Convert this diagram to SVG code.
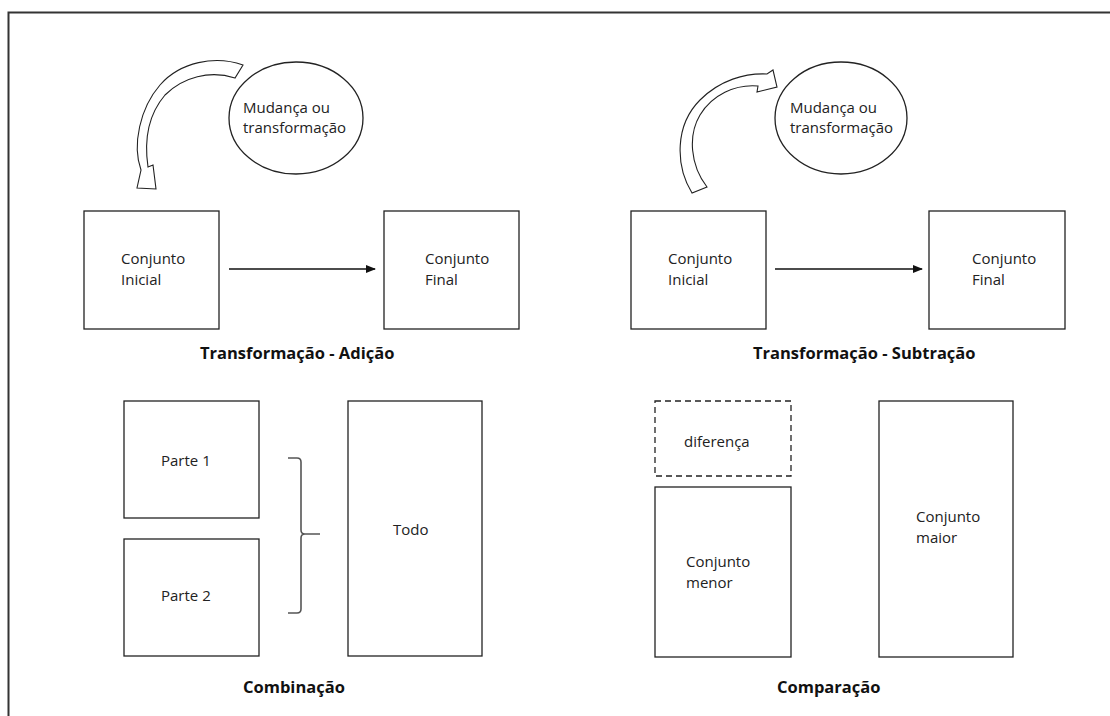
<svg xmlns="http://www.w3.org/2000/svg" width="1110" height="716" viewBox="0 0 1110 716">
<style>
.box{fill:#fff;stroke:#222;stroke-width:1.3}
.dash{fill:#fff;stroke:#222;stroke-width:1.3;stroke-dasharray:6 4}
.t{font-family:"Open Sans","Noto Sans",sans-serif;font-size:15px;fill:#222}
.h{font-family:"Open Sans","Noto Sans",sans-serif;font-size:16.5px;font-weight:bold;fill:#111}
.ca{fill:#fff;stroke:#222;stroke-width:1.1;stroke-linejoin:miter}
.ln{stroke:#111;stroke-width:1.5;fill:none}
</style>
<defs>
<marker id="ah" markerWidth="10" markerHeight="8" refX="9" refY="4" orient="auto" markerUnits="userSpaceOnUse">
<path d="M0,0 L10,4 L0,8 Z" fill="#111"/>
</marker>
</defs>
<rect width="1110" height="716" fill="#fff"/>
<path d="M8.5,716 L8.5,12.5 L1110,12.5" fill="none" stroke="#333" stroke-width="2"/>

<g id="add-change">
<ellipse cx="296" cy="118" rx="67" ry="56" class="box"/>
<text class="t" x="243" y="113">Mudança ou</text>
<text class="t" x="243" y="133">transformação</text>
</g>
<g id="add-initial">
<rect x="84" y="211" width="135" height="118" class="box"/>
<text class="t" x="121" y="264">Conjunto</text>
<text class="t" x="121" y="285">Inicial</text>
</g>
<g id="add-final">
<rect x="384" y="211" width="135" height="118" class="box"/>
<text class="t" x="425" y="264">Conjunto</text>
<text class="t" x="425" y="285">Final</text>
</g>
<text class="h" x="200" y="359">Transformação - Adição</text>

<g id="sub-change">
<ellipse cx="841" cy="118" rx="66" ry="56" class="box"/>
<text class="t" x="790" y="113">Mudança ou</text>
<text class="t" x="790" y="133">transformação</text>
</g>
<g id="sub-initial">
<rect x="631" y="211" width="135" height="118" class="box"/>
<text class="t" x="668" y="264">Conjunto</text>
<text class="t" x="668" y="285">Inicial</text>
</g>
<g id="sub-final">
<rect x="929" y="211" width="136" height="118" class="box"/>
<text class="t" x="972" y="264">Conjunto</text>
<text class="t" x="972" y="285">Final</text>
</g>
<text class="h" x="753" y="359">Transformação - Subtração</text>

<g id="parte1">
<rect x="124" y="401" width="135" height="117" class="box"/>
<text class="t" x="161" y="466">Parte 1</text>
</g>
<g id="parte2">
<rect x="124" y="539" width="135" height="117" class="box"/>
<text class="t" x="161" y="601">Parte 2</text>
</g>
<g id="todo">
<rect x="348" y="401" width="134" height="255" class="box"/>
<text class="t" x="393" y="535">Todo</text>
</g>
<text class="h" x="243" y="693">Combinação</text>

<g id="diferenca">
<rect x="655" y="401" width="136" height="75" class="dash"/>
<text class="t" x="684" y="447">diferença</text>
</g>
<g id="menor">
<rect x="655" y="487" width="136" height="170" class="box"/>
<text class="t" x="686" y="567">Conjunto</text>
<text class="t" x="686" y="588">menor</text>
</g>
<g id="maior">
<rect x="879" y="401" width="134" height="256" class="box"/>
<text class="t" x="916" y="522">Conjunto</text>
<text class="t" x="916" y="543">maior</text>
</g>
<text class="h" x="777" y="693">Comparação</text>

<g id="connectors">
<line x1="229" y1="269" x2="375" y2="269" class="ln" marker-end="url(#ah)"/>
<line x1="775" y1="269" x2="922" y2="269" class="ln" marker-end="url(#ah)"/>
<path class="ca" d="M243,65 C215,55 180,62 160,85 C140,108 132,145 141,170 L137,188 L156,189 L153,165 L148,167 C144,140 148,115 165,95 C183,77 210,70 235,78 Z"/>
<path class="ca" d="M692,193 C675,165 675,125 700,100 C720,80 745,73 767,74 L773,70 L777,87 L757,92 L758,86 C735,84 712,95 700,115 C688,135 690,165 707,187 Z"/>
<path d="M288,458 L297,458 Q301,458 301,462 L301,530 Q301,534 305,534 L320,534 M305,534 Q301,534 301,538 L301,609 Q301,613 297,613 L288,613" fill="none" stroke="#555" stroke-width="1.6"/>
</g>
</svg>
